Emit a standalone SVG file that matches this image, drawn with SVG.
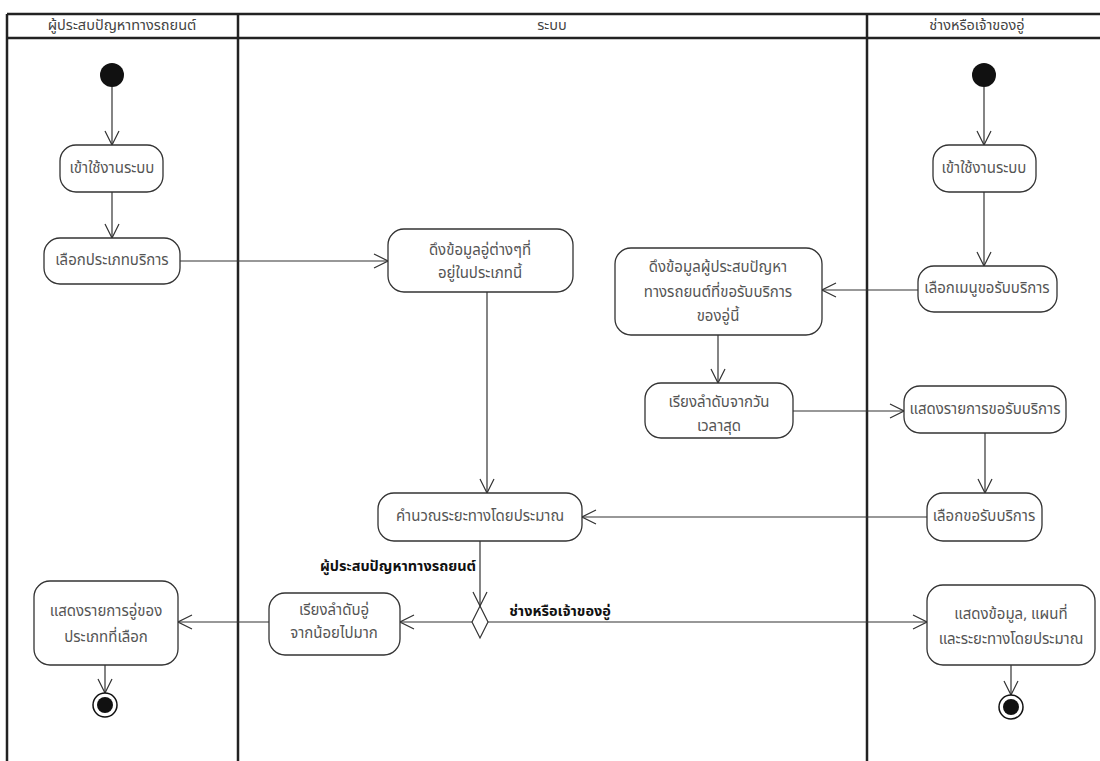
<svg xmlns="http://www.w3.org/2000/svg" width="1100" height="761" viewBox="0 0 1100 761">
  <defs>
    <style>
      .lane { fill: none; stroke: #222; stroke-width: 2.5; }
      .act { fill: #fff; stroke: #333; stroke-width: 1.3; }
      .t { font-family: "Noto Sans Thai", "Tahoma", "Leelawadee UI", "Noto Sans", sans-serif; font-size: 15px; fill: #555; text-anchor: middle; dominant-baseline: middle; }
      .h { font-family: "Noto Sans Thai", "Tahoma", "Leelawadee UI", "Noto Sans", sans-serif; font-size: 14.5px; fill: #444; text-anchor: middle; dominant-baseline: middle; }
      .g { font-family: "Noto Sans Thai", "Tahoma", "Leelawadee UI", "Noto Sans", sans-serif; font-size: 14.5px; font-weight: bold; fill: #111; text-anchor: middle; dominant-baseline: middle; }
      .flow { fill: none; stroke: #333; stroke-width: 1.2; marker-end: url(#open); }
    </style>
    <marker id="open" viewBox="0 0 16 16" refX="15" refY="8" markerWidth="16" markerHeight="16" markerUnits="userSpaceOnUse" orient="auto">
      <path d="M1,1 L15,8 L1,15" fill="none" stroke="#333" stroke-width="1.2"/>
    </marker>
  </defs>
  <rect width="1100" height="761" fill="#fff"/>

  <!-- swimlanes -->
  <g id="lanes">
    <line class="lane" x1="7" y1="14" x2="1100" y2="14"/>
    <line class="lane" x1="7" y1="38" x2="1100" y2="38"/>
    <line class="lane" x1="7" y1="14" x2="7" y2="761"/>
    <line class="lane" x1="238" y1="14" x2="238" y2="761"/>
    <line class="lane" x1="867" y1="14" x2="867" y2="761"/>
    <text class="h" x="122" y="26">ผู้ประสบปัญหาทางรถยนต์</text>
    <text class="h" x="552" y="26">ระบบ</text>
    <text class="h" x="977" y="26">ช่างหรือเจ้าของอู่</text>
  </g>

  <!-- connectors -->
  <g id="connectors">
    <line class="flow" x1="112" y1="87" x2="112" y2="145"/>
    <line class="flow" x1="112" y1="192" x2="112" y2="238"/>
    <line class="flow" x1="180" y1="261" x2="388" y2="261"/>
    <line class="flow" x1="487" y1="292" x2="487" y2="493"/>
    <line class="flow" x1="984" y1="87" x2="984" y2="145"/>
    <line class="flow" x1="984" y1="192" x2="984" y2="266"/>
    <line class="flow" x1="918" y1="290" x2="822" y2="290"/>
    <line class="flow" x1="718" y1="335" x2="718" y2="383"/>
    <line class="flow" x1="793" y1="411" x2="904" y2="411"/>
    <line class="flow" x1="985" y1="433" x2="985" y2="493"/>
    <line class="flow" x1="927" y1="517" x2="582" y2="517"/>
    <line class="flow" x1="480" y1="541" x2="480" y2="606"/>
    <line class="flow" x1="472" y1="622" x2="400" y2="622"/>
    <line class="flow" x1="488" y1="622" x2="927" y2="622"/>
    <line class="flow" x1="269" y1="622" x2="178" y2="622"/>
    <line class="flow" x1="105" y1="665" x2="105" y2="693"/>
    <line class="flow" x1="1011" y1="665" x2="1011" y2="695"/>
    <text class="g" x="398" y="567">ผู้ประสบปัญหาทางรถยนต์</text>
    <text class="g" x="560" y="612">ช่างหรือเจ้าของอู่</text>
  </g>

  <!-- customer lane -->
  <g id="start-customer"><circle cx="112" cy="75" r="12" fill="#111"/></g>
  <g id="login-customer">
    <rect class="act" x="60" y="145" width="103" height="47" rx="16"/>
    <text class="t" x="112" y="169">เข้าใช้งานระบบ</text>
  </g>
  <g id="choose-type">
    <rect class="act" x="44" y="238" width="136" height="46" rx="16"/>
    <text class="t" x="112" y="261">เลือกประเภทบริการ</text>
  </g>
  <g id="show-garages">
    <rect class="act" x="34" y="581" width="144" height="84" rx="16"/>
    <text class="t" x="106" y="612">แสดงรายการอู่ของ</text>
    <text class="t" x="106" y="638">ประเภทที่เลือก</text>
  </g>
  <g id="end-customer">
    <circle cx="105" cy="705" r="12" fill="#fff" stroke="#111" stroke-width="1.5"/>
    <circle cx="105" cy="705" r="8" fill="#111"/>
  </g>

  <!-- system lane -->
  <g id="fetch-garages">
    <rect class="act" x="388" y="229" width="185" height="63" rx="16"/>
    <text class="t" x="480" y="251">ดึงข้อมูลอู่ต่างๆที่</text>
    <text class="t" x="480" y="274">อยู่ในประเภทนี้</text>
  </g>
  <g id="fetch-requests">
    <rect class="act" x="615" y="248" width="207" height="87" rx="16"/>
    <text class="t" x="718" y="268">ดึงข้อมูลผู้ประสบปัญหา</text>
    <text class="t" x="718" y="293">ทางรถยนต์ที่ขอรับบริการ</text>
    <text class="t" x="718" y="317">ของอู่นี้</text>
  </g>
  <g id="sort-by-time">
    <rect class="act" x="645" y="383" width="148" height="55" rx="16"/>
    <text class="t" x="719" y="403">เรียงลำดับจากวัน</text>
    <text class="t" x="719" y="427">เวลาสุด</text>
  </g>
  <g id="calc-distance">
    <rect class="act" x="378" y="493" width="204" height="48" rx="16"/>
    <text class="t" x="480" y="517">คำนวณระยะทางโดยประมาณ</text>
  </g>
  <g id="decision">
    <polygon points="480,606 488,622 480,638 472,622" fill="#fff" stroke="#333" stroke-width="1.2"/>
  </g>
  <g id="sort-by-distance">
    <rect class="act" x="269" y="593" width="131" height="62" rx="16"/>
    <text class="t" x="334" y="611">เรียงลำดับอู่</text>
    <text class="t" x="334" y="634">จากน้อยไปมาก</text>
  </g>

  <!-- garage lane -->
  <g id="start-garage"><circle cx="984" cy="75" r="12" fill="#111"/></g>
  <g id="login-garage">
    <rect class="act" x="933" y="145" width="103" height="47" rx="16"/>
    <text class="t" x="984" y="169">เข้าใช้งานระบบ</text>
  </g>
  <g id="request-menu">
    <rect class="act" x="918" y="266" width="139" height="46" rx="16"/>
    <text class="t" x="987" y="289">เลือกเมนูขอรับบริการ</text>
  </g>
  <g id="request-list">
    <rect class="act" x="904" y="386" width="162" height="47" rx="16"/>
    <text class="t" x="985" y="410">แสดงรายการขอรับบริการ</text>
  </g>
  <g id="pick-request">
    <rect class="act" x="927" y="493" width="115" height="48" rx="16"/>
    <text class="t" x="984" y="517">เลือกขอรับบริการ</text>
  </g>
  <g id="show-map">
    <rect class="act" x="927" y="585" width="168" height="80" rx="16"/>
    <text class="t" x="1011" y="615">แสดงข้อมูล, แผนที่</text>
    <text class="t" x="1011" y="640">และระยะทางโดยประมาณ</text>
  </g>
  <g id="end-garage">
    <circle cx="1011" cy="707" r="12" fill="#fff" stroke="#111" stroke-width="1.5"/>
    <circle cx="1011" cy="707" r="8" fill="#111"/>
  </g>
</svg>
